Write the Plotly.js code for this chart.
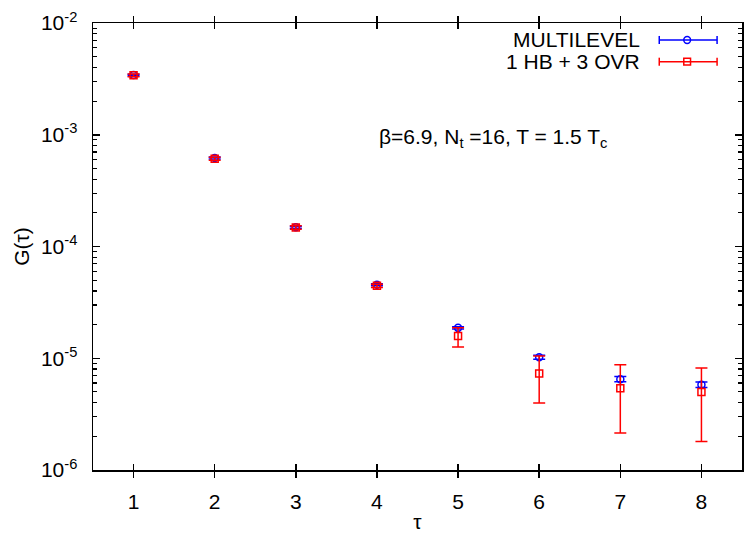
<!DOCTYPE html>
<html>
<head>
<meta charset="utf-8">
<script src="https://cdn.plot.ly/plotly-3.0.1.min.js"></script>
<style>html,body{margin:0;padding:0;background:#fff;}#chart{width:745px;height:533px;}</style>
</head>
<body>
<div id="chart"></div>
<script>
// ---- data ----
const tau = [1, 2, 3, 4, 5, 6, 7, 8];

const multilevelName = "MULTILEVEL";
const multilevelG      = [3.43e-3, 6.2e-4, 1.49e-4, 4.55e-5, 1.87e-5, 1.02e-5, 6.5e-6, 5.8e-6];
const multilevelErr    = [0.05e-3, 0.012e-3, 0.003e-3, 0.09e-5, 0.04e-5, 0.042e-5, 0.035e-5, 0.033e-5];

const ovrName = "1 HB + 3 OVR";
const ovrG        = [3.40e-3, 6.1e-4, 1.48e-4, 4.45e-5, 1.58e-5, 7.3e-6, 5.4e-6, 5.0e-6];
const ovrErrPlus  = [0.09e-3, 0.02e-3, 0.005e-3, 0.15e-5, 0.29e-5, 3.2e-6, 3.35e-6, 3.2e-6];
const ovrErrMinus = [0.09e-3, 0.02e-3, 0.005e-3, 0.15e-5, 0.32e-5, 3.32e-6, 3.26e-6, 3.2e-6];

const xTickVals = [1, 2, 3, 4, 5, 6, 7, 8];
const yTickVals = [1e-6, 1e-5, 1e-4, 1e-3, 1e-2];
const yTickText = ["10<sup>-6</sup>", "10<sup>-5</sup>", "10<sup>-4</sup>", "10<sup>-3</sup>", "10<sup>-2</sup>"];
const yMinorVals = [
  2e-6, 3e-6, 4e-6, 5e-6, 6e-6, 7e-6, 8e-6, 9e-6,
  2e-5, 3e-5, 4e-5, 5e-5, 6e-5, 7e-5, 8e-5, 9e-5,
  2e-4, 3e-4, 4e-4, 5e-4, 6e-4, 7e-4, 8e-4, 9e-4,
  2e-3, 3e-3, 4e-3, 5e-3, 6e-3, 7e-3, 8e-3, 9e-3
];

const annotationText = "β=6.9, N<sub>t</sub> =16, T = 1.5 T<sub>c</sub>";

// ---- plot ----
const FONT = "Liberation Sans, Arial, Helvetica, sans-serif";
const FS = 21;
const BLUE = "#0000ff", RED = "#ff0000";

const traces = [
  {
    x: tau, y: multilevelG, name: multilevelName, type: "scatter", mode: "markers",
    marker: {symbol: "circle-open", size: 7, color: BLUE, line: {width: 1.5, color: BLUE}},
    error_y: {type: "data", array: multilevelErr, visible: true, color: BLUE, thickness: 1.5, width: 6},
    showlegend: false
  },
  {
    x: tau, y: ovrG, name: ovrName, type: "scatter", mode: "markers",
    marker: {symbol: "square-open", size: 7, color: RED, line: {width: 1.5, color: RED}},
    error_y: {type: "data", symmetric: false, array: ovrErrPlus, arrayminus: ovrErrMinus, visible: true, color: RED, thickness: 1.5, width: 6},
    showlegend: false
  },
  // empty trace so the minor-tick axis is drawn
  {x: [], y: [], xaxis: "x", yaxis: "y2", type: "scatter", mode: "markers", showlegend: false, hoverinfo: "skip"}
];

// legend geometry (paper coords)
const L = {textX: 0.8464, x0: 0.8725, x1: 0.9616, xm: 0.9155, rows: [0.962, 0.9134], cap: 0.009};
const legendColors = [BLUE, RED];
const legendNames = [multilevelName, ovrName];
const shapes = [];
const annotations = [];
legendNames.forEach((nm, i) => {
  const y = L.rows[i], c = legendColors[i];
  shapes.push({type: "line", xref: "paper", yref: "paper", x0: L.x0, x1: L.x1, y0: y, y1: y, line: {color: c, width: 1.5}});
  shapes.push({type: "line", xref: "paper", yref: "paper", x0: L.x0, x1: L.x0, y0: y - L.cap, y1: y + L.cap, line: {color: c, width: 1.5}});
  shapes.push({type: "line", xref: "paper", yref: "paper", x0: L.x1, x1: L.x1, y0: y - L.cap, y1: y + L.cap, line: {color: c, width: 1.5}});
  const dx = 0.0052, dy = 0.0076;
  shapes.push({type: i === 0 ? "circle" : "rect", xref: "paper", yref: "paper",
    x0: L.xm - dx, x1: L.xm + dx, y0: y - dy, y1: y + dy, line: {color: c, width: 1.5}, fillcolor: "rgba(0,0,0,0)"});
  annotations.push({xref: "paper", yref: "paper", x: L.textX, y: y, xanchor: "right", yanchor: "middle",
    text: nm, showarrow: false, font: {family: FONT, size: FS, color: "#000"}});
});
annotations.push({xref: "paper", yref: "paper", x: 0.4378, y: 0.7427, xanchor: "left", yanchor: "middle",
  text: annotationText, showarrow: false, font: {family: FONT, size: FS, color: "#000"}});

const layout = {
  width: 745, height: 533,
  margin: {l: 93, r: 1, t: 23, b: 63},
  paper_bgcolor: "#fff", plot_bgcolor: "#fff",
  font: {family: FONT, size: FS, color: "#000"},
  showlegend: false,
  xaxis: {
    range: [0.5, 8.5], tickvals: xTickVals, ticktext: xTickVals.map(String),
    ticks: "inside", ticklen: 6, tickwidth: 1.5, tickcolor: "#000",
    showline: true, linecolor: "#000", linewidth: 1.5, mirror: "allticks",
    showgrid: false, zeroline: false, ticklabelstandoff: 12,
    title: {text: "τ", font: {family: FONT, size: FS}, standoff: 6}
  },
  yaxis: {
    type: "log", range: [-6, -2], tickvals: yTickVals, ticktext: yTickText,
    ticks: "inside", ticklen: 7, tickwidth: 1.5, tickcolor: "#000",
    showline: true, linecolor: "#000", linewidth: 1.5, mirror: "allticks",
    showgrid: false, zeroline: false, ticklabelstandoff: 10, automargin: true,
    title: {text: "G(τ)", font: {family: FONT, size: FS}, standoff: 5}
  },
  yaxis2: {
    type: "log", range: [-6, -2], overlaying: "y", side: "left", tickvals: yMinorVals,
    showticklabels: false, ticks: "inside", ticklen: 4, tickwidth: 1.2, tickcolor: "#000",
    showline: false, mirror: "allticks", showgrid: false, zeroline: false
  },
  shapes: shapes,
  annotations: annotations
};

Plotly.newPlot("chart", traces, layout, {staticPlot: true, displayModeBar: false});
</script>
</body>
</html>
